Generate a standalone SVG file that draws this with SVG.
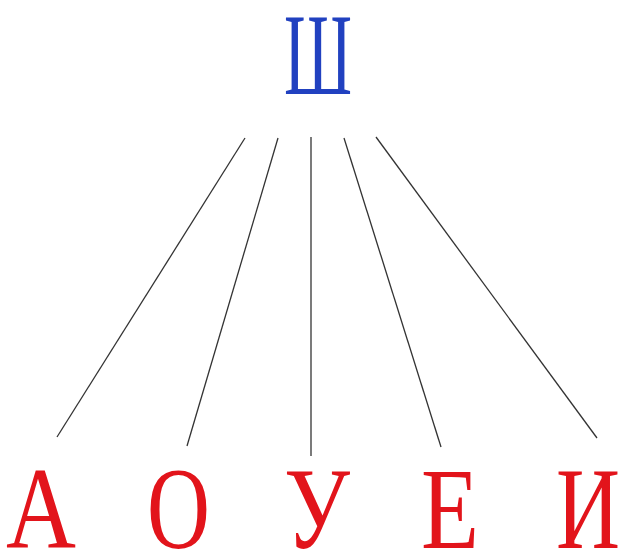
<svg xmlns="http://www.w3.org/2000/svg" width="619" height="549" viewBox="0 0 619 549">
<style>
.top{font-family:"Liberation Serif","DejaVu Serif",serif;font-size:117px;fill:#2141c0}
.vow{font-family:"Liberation Serif","DejaVu Serif",serif;font-size:117px;fill:#e2141b}
.ln{stroke:#333;stroke-width:1.3;fill:none}
</style>
<rect width="619" height="549" fill="#fff"/>
<g id="connectors">
<line class="ln" x1="245" y1="138" x2="57" y2="437"/>
<line class="ln" x1="278" y1="138" x2="187" y2="446"/>
<line class="ln" x1="311" y1="137" x2="311" y2="456"/>
<line class="ln" x1="344" y1="138" x2="441" y2="447"/>
<line class="ln" x1="376" y1="137" x2="597" y2="438"/>
</g>
<g id="node-sh"><text class="top" x="284" y="94" textLength="68" lengthAdjust="spacingAndGlyphs">Ш</text></g>
<g id="node-a"><text class="vow" x="6" y="548" textLength="70" lengthAdjust="spacingAndGlyphs">А</text></g>
<g id="node-o"><text class="vow" x="147" y="548" textLength="63" lengthAdjust="spacingAndGlyphs">О</text></g>
<g id="node-u"><text class="vow" x="284" y="548" textLength="66" lengthAdjust="spacingAndGlyphs">У</text></g>
<g id="node-e"><text class="vow" x="421" y="548" textLength="58" lengthAdjust="spacingAndGlyphs">Е</text></g>
<g id="node-i"><text class="vow" x="556" y="548" textLength="64" lengthAdjust="spacingAndGlyphs">И</text></g>
</svg>
